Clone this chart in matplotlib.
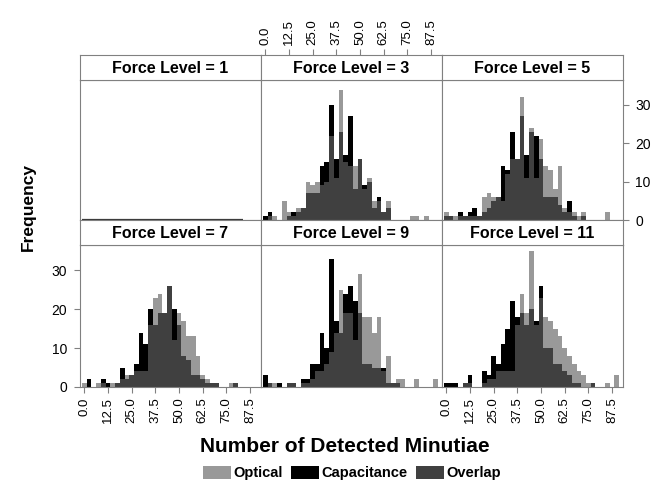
import matplotlib
matplotlib.use("Agg")
import matplotlib.pyplot as plt
from matplotlib.patches import Patch

plt.rcParams['font.family'] = ['Liberation Sans', 'DejaVu Sans']

# ---- data ----
bin_centers = [0.0, 2.5, 5.0, 7.5, 10.0, 12.5, 15.0, 17.5, 20.0, 22.5, 25.0, 27.5,
               30.0, 32.5, 35.0, 37.5, 40.0, 42.5, 45.0, 47.5, 50.0, 52.5, 55.0,
               57.5, 60.0, 62.5, 65.0, 67.5, 70.0, 72.5, 75.0, 77.5, 80.0, 82.5,
               85.0, 87.5, 90.0]
bin_width = 2.5
force_levels = [1, 3, 5, 7, 9, 11]

optical_1 = [0] * 37
capacitance_1 = [0] * 37
optical_3 = [0,1,1,0,5,2,1,3,3,10,9,10,9,10,22,11,34,15,14,14,16,8,11,5,5,2,5,0,0,0,0,1,1,0,1,0,0]
capacitance_3 = [1,2,0,0,0,1,2,2,3,7,7,7,14,15,30,16,23,17,27,8,16,9,10,3,6,2,3,0,0,0,0,0,0,0,0,0,0]
optical_5 = [2,1,1,1,1,1,1,1,6,7,6,6,5,12,16,16,32,11,24,11,21,14,13,8,14,3,2,2,1,2,0,0,0,0,2,0,0]
capacitance_5 = [1,1,0,2,1,2,3,1,2,3,5,6,14,13,23,16,27,17,23,22,16,6,6,6,4,2,5,1,0,1,0,0,0,0,0,0,0]
optical_7 = [1,0,0,1,1,0,1,1,2,3,3,4,4,4,16,23,24,19,26,12,19,17,13,13,8,3,2,1,1,0,0,1,1,0,0,0,0]
capacitance_7 = [0,2,0,0,2,1,0,1,5,2,3,6,14,11,20,16,19,19,26,20,16,8,7,3,3,2,1,1,1,0,0,0,1,0,0,0,0]
optical_9 = [0,1,1,0,0,1,1,0,1,1,2,4,4,6,9,14,25,19,19,12,29,18,18,14,18,4,8,1,2,2,0,0,2,0,0,0,2]
capacitance_9 = [3,1,0,1,0,1,1,0,2,2,6,6,14,10,33,17,14,24,26,22,19,6,6,5,5,5,1,1,1,0,0,0,0,0,0,0,0]
optical_11 = [0,0,0,0,1,1,0,0,1,2,2,4,4,4,4,16,24,19,35,16,23,18,17,15,13,10,8,6,4,3,1,1,0,0,1,0,3]
capacitance_11 = [1,1,1,0,1,3,0,0,4,3,8,6,11,15,22,18,19,16,20,17,26,10,10,6,6,4,3,1,1,0,0,1,0,0,0,0,0]

optical = [optical_1, optical_3, optical_5, optical_7, optical_9, optical_11]
capacitance = [capacitance_1, capacitance_3, capacitance_5, capacitance_7, capacitance_9, capacitance_11]

x_ticks = [0.0, 12.5, 25.0, 37.5, 50.0, 62.5, 75.0, 87.5]
x_ticklabels = ["0.0", "12.5", "25.0", "37.5", "50.0", "62.5", "75.0", "87.5"]
y_ticks = [0, 10, 20, 30]

# ---- style ----
C_OPT = "#999999"
C_CAP = "#000000"
C_OVL = "#404040"
C_FRAME = "#808080"
XLIM = (-2.5, 93)

W, H = 667, 483
fig = plt.figure(figsize=(W / 100, H / 100), dpi=100)

def fx(px):
    return px / W

def fy(py):
    return 1 - py / H

col_left = [79.5, 260.5, 441.5]
col_w = 181
rows = [(55, 80, 220), (220, 245, 387)]  # strip top, plot top, plot bottom

for i, lvl in enumerate(force_levels):
    r, c = divmod(i, 3)
    st, pt, pb = rows[r]
    ax = fig.add_axes([fx(col_left[c]), fy(pb), col_w / W, (pb - pt) / H])
    sax = fig.add_axes([fx(col_left[c]), fy(pt), col_w / W, (pt - st) / H])
    sax.set_xlim(*XLIM)
    sax.set_xticks([]); sax.set_yticks([])
    for sp in sax.spines.values():
        sp.set_color(C_FRAME)
    sax.text(0.5, 0.45, f"Force Level = {lvl}", ha="center", va="center",
             fontsize=11.5, fontweight="bold", transform=sax.transAxes)
    if lvl == 3:
        sax.set_xticks(x_ticks)
        sax.set_xticklabels(x_ticklabels, rotation=90, fontsize=9.5)
        sax.tick_params(axis="x", bottom=False, labelbottom=False, top=True,
                        labeltop=True, colors=C_FRAME, labelcolor="black",
                        length=4, width=0.8, direction="out")

    opt = optical[i]
    cap = capacitance[i]
    tops = [max(o, k) for o, k in zip(opt, cap)]
    lows = [min(o, k) for o, k in zip(opt, cap)]
    cols = [C_OPT if o > k else C_CAP for o, k in zip(opt, cap)]
    ax.bar(bin_centers, tops, width=bin_width, color=cols, linewidth=0)
    ax.bar(bin_centers, lows, width=bin_width, color=C_OVL, linewidth=0)
    if sum(tops) == 0:
        ax.hlines(0, bin_centers[0] - bin_width / 2, bin_centers[33] + bin_width / 2,
                  color="#333333", linewidth=1.6)

    ax.set_xlim(*XLIM)
    ax.set_ylim(0, 36.5)
    for sp in ax.spines.values():
        sp.set_color(C_FRAME)
    ax.tick_params(colors=C_FRAME, labelcolor="black", length=4, width=0.8,
                   direction="out")
    ax.set_xticks(x_ticks)
    ax.set_yticks(y_ticks)

    ax.tick_params(axis="x", bottom=False, top=False, labelbottom=False, labeltop=False)
    ax.tick_params(axis="y", left=False, right=False, labelleft=False, labelright=False)

    if lvl in (7, 11):
        ax.tick_params(axis="x", bottom=True, labelbottom=True)
        ax.set_xticklabels(x_ticklabels, rotation=90, fontsize=9.5)
    if lvl == 5:
        ax.tick_params(axis="y", right=True, labelright=True, labelsize=10, pad=5)
    if lvl == 7:
        ax.tick_params(axis="y", left=True, labelleft=True, labelsize=10, pad=5)

fig.text(fx(28), fy(207), "Frequency", rotation=90, ha="center", va="center",
         fontsize=12.5, fontweight="bold")
fig.text(fx(345), fy(447), "Number of Detected Minutiae", ha="center", va="center",
         fontsize=15, fontweight="bold")

handles = [Patch(facecolor=C_OPT, edgecolor="none", label="Optical"),
           Patch(facecolor=C_CAP, edgecolor="none", label="Capacitance"),
           Patch(facecolor=C_OVL, edgecolor="none", label="Overlap")]
leg = fig.legend(handles=handles, loc="center", bbox_to_anchor=(fx(352), fy(473)),
                 ncol=3, frameon=False, handlelength=1.9, handleheight=1.0,
                 handletextpad=0.15, columnspacing=0.6,
                 prop={"weight": "bold", "size": 10.5})

fig.savefig("out.png", dpi=100)
